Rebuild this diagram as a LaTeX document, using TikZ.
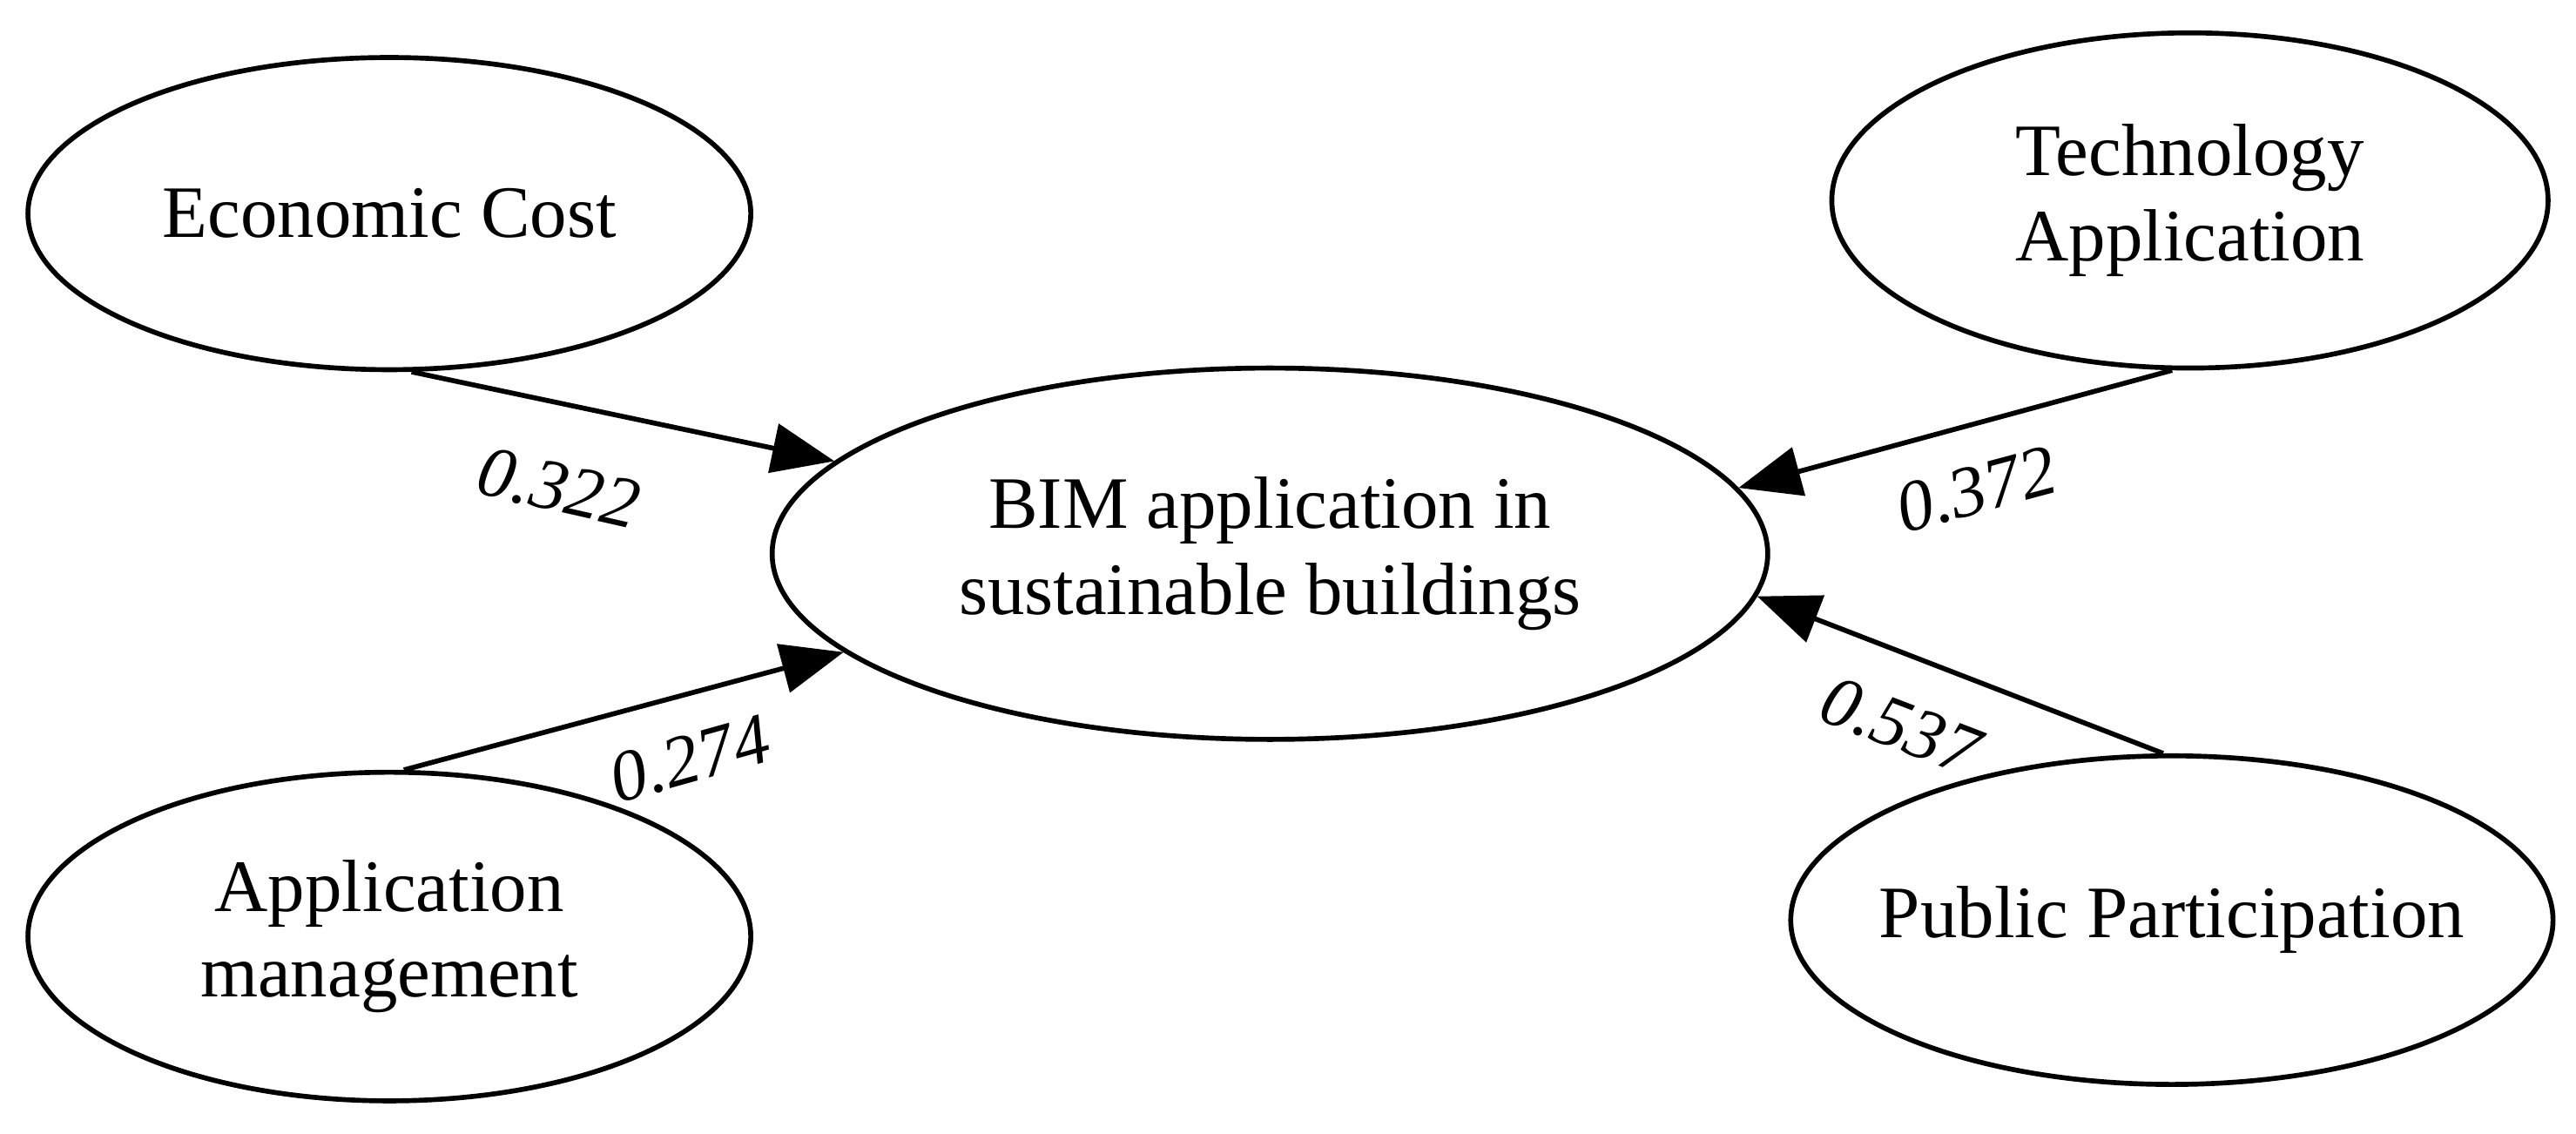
\documentclass[tikz,border=0pt]{standalone}
\usepackage{fontspec}
\setmainfont{Liberation Serif}
\usetikzlibrary{shapes.geometric,arrows.meta}
\begin{document}
\begin{tikzpicture}[x=0.5pt,y=-0.5pt,
  el/.style={ellipse,draw,line width=1.5pt,inner sep=0pt,align=center,font=\fontsize{22.5}{26}\selectfont},
  arr/.style={line width=1.5pt,-{Triangle[length=19pt,width=15pt]}},
  lab/.style={font=\fontsize{22}{25}\selectfont\itshape}]
\useasboundingbox (0,0) rectangle (1568,690);
\node[el,minimum width=220pt,minimum height=95pt] (ec) at (237,130) {Economic Cost};
\node[el,minimum width=218pt,minimum height=102pt] (ta) at (1333,122) {Technology\\Application};
\node[el,minimum width=303pt,minimum height=113pt] (bim) at (773,337) {BIM application in\\sustainable buildings};
\node[el,minimum width=220pt,minimum height=100pt] (am) at (237,570) {Application\\management};
\node[el,minimum width=232pt,minimum height=100pt,label={[font=\fontsize{22.5}{26}\selectfont]center:Public Participation}] (pp) at (1322,560) {};
\draw[arr] (ec.-82) -- (bim.168.6);
\draw[arr] (am.85) -- (bim.193);
\draw[arr] (ta.264) -- (bim.8);
\draw[arr] (pp.93) -- (bim.-5.5);
\node[lab,rotate=-12.8] (l1) at (340,297) {0.322};
\node[lab,rotate=15.6] (l2) at (420,462) {0.274};
\node[lab,rotate=15] (l3) at (1203,298) {0.372};
\node[lab,rotate=-21] (l4) at (1157,442) {0.537};
\end{tikzpicture}
\end{document}
